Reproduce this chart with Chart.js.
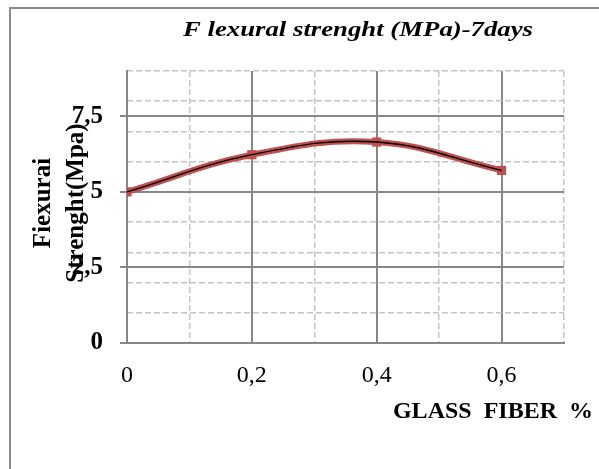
<!DOCTYPE html>
<html>
<head>
<meta charset="utf-8">
<script src="https://cdn.jsdelivr.net/npm/chart.js@4/dist/chart.umd.min.js"></script>
<style>
  html, body { margin: 0; padding: 0; background: #fff; }
  #wrap { width: 599px; height: 469px; position: relative; }
</style>
</head>
<body>
<div id="wrap"><canvas id="c" width="599" height="469"></canvas></div>
<script>
'use strict';

/* ---- data ---- */
const fiber = [0, 0.2, 0.4, 0.6];
const strength = [5.0, 6.23, 6.65, 5.71];

const xMajor = [0, 0.2, 0.4, 0.6];
const xMinor = [0.1, 0.3, 0.5, 0.7];
const yMajor = [0, 2.5, 5, 7.5];
const yMinor = [1, 2, 3, 4, 6, 7, 8, 9];

const titleText = 'F lexural strenght (MPa)-7days';
const yTitle = ['Fiexurai', 'Strenght(Mpa)'];
const xTitle = 'GLASS  FIBER  %';

const SERIF = "'Liberation Serif', 'Times New Roman', serif";
const MAJOR = '#878787', MINOR = '#c4c4c4';

const points = fiber.map((x, i) => ({ x: x, y: strength[i] }));
const comma = v => String(v).replace('.', ',');

/* texts drawn at fixed spots, like the Excel original */
const textPlugin = {
    id: 'texts',
    beforeDraw(chart) {
        const ctx = chart.ctx;
        ctx.save();
        ctx.fillStyle = '#8a8a8a';
        ctx.fillRect(9, 7, 2, 469);
        ctx.fillRect(9, 7, 590, 2);
        ctx.restore();
    },
    afterDraw(chart) {
        const ctx = chart.ctx;
        ctx.save();
        ctx.fillStyle = '#000';
        ctx.textBaseline = 'alphabetic';

        // title is stretched wide in the original
        ctx.font = 'italic bold 21px ' + SERIF;
        ctx.textAlign = 'center';
        const w = ctx.measureText(titleText).width;
        ctx.save();
        ctx.translate(358, 36);
        ctx.scale(350 / w, 1);
        ctx.fillText(titleText, 0, 0);
        ctx.restore();

        ctx.font = 'bold 24px ' + SERIF;
        ctx.textAlign = 'right';
        ctx.fillText(xTitle, 593, 418);

        ctx.translate(0, 203);
        ctx.rotate(-Math.PI / 2);
        ctx.textAlign = 'center';
        ctx.font = 'bold 25px ' + SERIF;
        ctx.fillText(yTitle[0], 0, 50);
        ctx.fillText(yTitle[1], 0, 83);
        ctx.restore();
    }
};

new Chart(document.getElementById('c'), {
    type: 'line',
    data: {
        datasets: [{
            label: 'trend',
            data: points,
            borderColor: '#000',
            borderWidth: 1.3,
            pointRadius: 0,
            tension: 0.4,
            fill: false
        }, {
            label: 'strength',
            data: points,
            borderColor: '#C0504D',
            borderWidth: 6,
            tension: 0.4,
            pointStyle: 'rect',
            pointRadius: 6.5,
            pointBackgroundColor: '#C0504D',
            pointBorderColor: '#C0504D',
            pointBorderWidth: 0,
            fill: false
        }]
    },
    options: {
        responsive: false,
        animation: false,
        layout: { padding: { left: 0, top: 71, right: 35, bottom: 66 } },
        plugins: { legend: { display: false }, tooltip: { enabled: false }, title: { display: false } },
        scales: {
            x: {
                type: 'linear', position: 'bottom', min: 0, max: 0.7,
                afterBuildTicks: s => { s.ticks = xMajor.map(v => ({ value: v })); },
                afterFit: s => { s.height = 60; },
                grid: { color: MAJOR, lineWidth: 2, drawTicks: false },
                border: { display: true, color: MAJOR, width: 2 },
                ticks: {
                    padding: 18, color: '#000', maxRotation: 0, autoSkip: false,
                    font: { family: SERIF, size: 24 },
                    callback: v => comma(v)
                }
            },
            x2: {
                type: 'linear', position: 'top', min: 0, max: 0.7,
                afterBuildTicks: s => { s.ticks = xMinor.map(v => ({ value: v })); },
                afterFit: s => { s.height = 0; },
                grid: { color: MINOR, lineWidth: 1.5, drawTicks: false },
                border: { display: false, dash: [6, 3] },
                ticks: { display: false }
            },
            y: {
                type: 'linear', position: 'left', min: 0, max: 9,
                afterBuildTicks: s => { s.ticks = yMajor.map(v => ({ value: v })); },
                afterFit: s => { s.width = 127; },
                grid: { color: MAJOR, lineWidth: 2, tickLength: 7, tickColor: MAJOR, tickWidth: 2 },
                border: { display: true, color: MAJOR, width: 2 },
                ticks: {
                    padding: 17, color: '#000', autoSkip: false,
                    font: { family: SERIF, size: 25, weight: 'bold' },
                    callback: v => comma(v)
                }
            },
            y2: {
                type: 'linear', position: 'right', min: 0, max: 9,
                afterBuildTicks: s => { s.ticks = yMinor.map(v => ({ value: v })); },
                afterFit: s => { s.width = 0; },
                grid: { color: MINOR, lineWidth: 1.5, drawTicks: false },
                border: { display: false, dash: [6, 3] },
                ticks: { display: false }
            }
        }
    },
    plugins: [textPlugin]
});
</script>
</body>
</html>
